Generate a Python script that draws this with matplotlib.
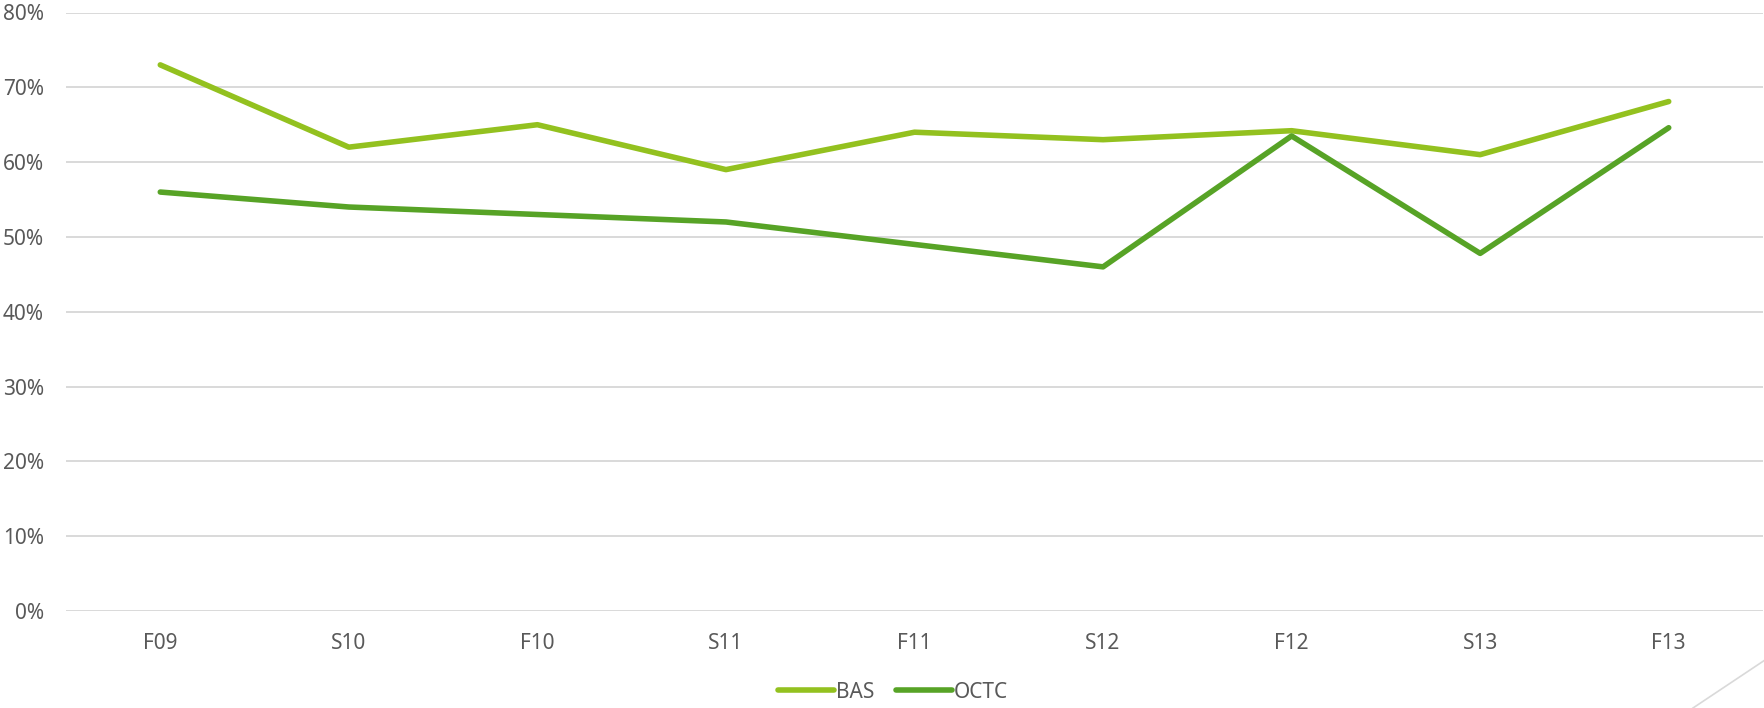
import matplotlib
matplotlib.use("Agg")
import matplotlib.pyplot as plt
from matplotlib.lines import Line2D

categories = ["F09", "S10", "F10", "S11", "F11", "S12", "F12", "S13", "F13"]
bas = [73, 62, 65, 59, 64, 63, 64.2, 61, 68.1]
octc = [56, 54, 53, 52, 49, 46, 63.5, 47.8, 64.6]
yticks = [0, 10, 20, 30, 40, 50, 60, 70, 80]

plt.rcParams['font.family'] = ['Noto Sans', 'DejaVu Sans']
text_color = "#595959"

W, H = 1765, 708
fig = plt.figure(figsize=(W / 100, H / 100), dpi=100)
ax = fig.add_axes([66 / W, 1 - 611 / H, (1763 - 66) / W, (611 - 12.5) / H])

x = list(range(len(categories)))
ax.plot(x, bas, color="#93C11F", lw=4.0, solid_capstyle="round", solid_joinstyle="round", label="BAS", zorder=3)
ax.plot(x, octc, color="#57A326", lw=4.0, solid_capstyle="round", solid_joinstyle="round", label="OCTC", zorder=3)

ax.set_xlim(-0.5, len(categories) - 0.5)
ax.set_ylim(0, 80)
ax.set_yticks(yticks)
ax.set_yticklabels([f"{v}%" for v in yticks])
ax.set_xticks(x)
ax.set_xticklabels(categories)
ax.grid(axis="y", color="#D9D9D9", lw=1.4)
ax.set_axisbelow(True)
for s in ax.spines.values():
    s.set_visible(False)
ax.tick_params(axis="both", length=0, colors=text_color, labelsize=15)
ax.tick_params(axis="y", pad=16)
ax.tick_params(axis="x", pad=16)

leg = fig.legend(loc="center", bbox_to_anchor=(893 / W, 1 - 692 / H), ncol=2, frameon=False,
                 fontsize=15, handlelength=2.7, handletextpad=0.1, columnspacing=1.0)
for t in leg.get_texts():
    t.set_color(text_color)

fig.add_artist(Line2D([1693 / W, 1.0], [0.0, 1 - 660 / H], transform=fig.transFigure,
                      color="#D9D9D9", lw=1.2))

fig.savefig("out.png", dpi=100)
